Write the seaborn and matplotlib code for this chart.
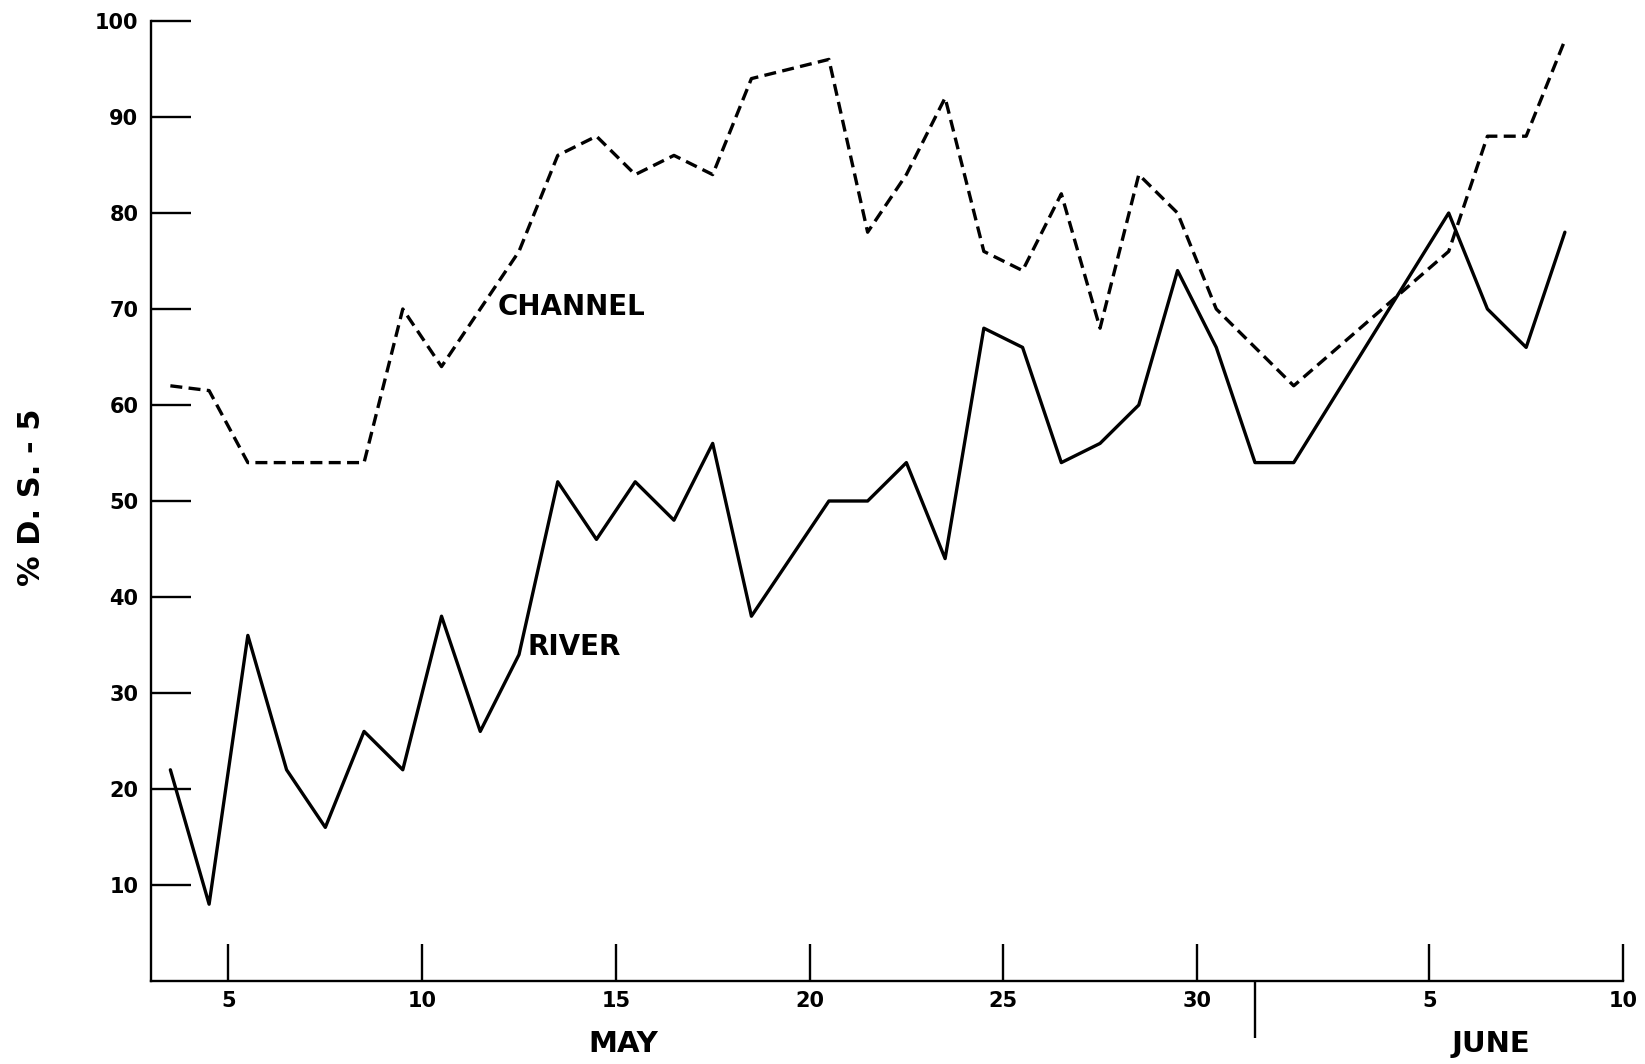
import matplotlib
matplotlib.use("Agg")
import matplotlib.pyplot as plt
import pandas as pd
import seaborn as sns

# Day index runs continuously: May d -> d, June d -> 31 + d.
# Each sample is plotted at the middle of its day.
river_days = [3.5, 4.5, 5.5, 6.5, 7.5, 8.5, 9.5, 10.5, 11.5, 12.5, 13.5, 14.5,
              15.5, 16.5, 17.5, 18.5, 20.5, 21.5, 22.5, 23.5, 24.5, 25.5, 26.5,
              27.5, 28.5, 29.5, 30.5, 31.5, 32.5, 36.5, 37.5, 38.5, 39.5]
river_pct = [22, 8, 36, 22, 16, 26, 22, 38, 26, 34, 52, 46,
             52, 48, 56, 38, 50, 50, 54, 44, 68, 66, 54,
             56, 60, 74, 66, 54, 54, 80, 70, 66, 78]

channel_days = [3.5, 4.5, 5.5, 6.5, 7.5, 8.5, 9.5, 10.5, 11.5, 12.5, 13.5,
                14.5, 15.5, 16.5, 17.5, 18.5, 20.5, 21.5, 22.5, 23.5, 24.5,
                25.5, 26.5, 27.5, 28.5, 29.5, 30.5, 32.5, 36.5, 37.5, 38.5, 39.5]
channel_pct = [62, 61.5, 54, 54, 54, 54, 70, 64, 70, 76, 86,
               88, 84, 86, 84, 94, 96, 78, 84, 92, 76,
               74, 82, 68, 84, 80, 70, 62, 76, 88, 88, 98]

x_tick_pos = [5, 10, 15, 20, 25, 30, 36, 41]
x_tick_labels = ["5", "10", "15", "20", "25", "30", "5", "10"]
y_ticks = [10, 20, 30, 40, 50, 60, 70, 80, 90, 100]
month_break = 31.5
month_labels = ["MAY", "JUNE"]
month_label_x = [15.2, 37.6]
series_labels = ["CHANNEL", "RIVER"]
series_label_xy = [(11.95, 70.2), (12.73, 34.8)]

sns.set_theme(style="white")
plt.rcParams["font.family"] = ["DejaVu Sans"]
plt.rcParams["font.weight"] = "bold"

W, H = 1645, 1064
fig = plt.figure(figsize=(W / 100, H / 100), dpi=100)
ax = fig.add_axes([151 / W, 1 - 981 / H, (1623 - 151) / W, (981 - 21) / H])

river = pd.DataFrame({"day": river_days, "pct": river_pct})
channel = pd.DataFrame({"day": channel_days, "pct": channel_pct})

sns.lineplot(data=river, x="day", y="pct", ax=ax, color="black",
             linewidth=2.4, estimator=None, sort=False)
sns.lineplot(data=channel, x="day", y="pct", ax=ax, color="black",
             linewidth=2.4, estimator=None, sort=False,
             linestyle=(0, (3.6, 1.9)))

ax.set_xlim(3, 41)
ax.set_ylim(0, 100)

for side in ("top", "right"):
    ax.spines[side].set_visible(False)
for side in ("left", "bottom"):
    ax.spines[side].set_linewidth(1.7)
    ax.spines[side].set_color("black")

ax.set_xticks(x_tick_pos)
ax.set_xticklabels(x_tick_labels)
ax.set_yticks(y_ticks)
ax.set_yticklabels([str(v) for v in y_ticks])
ax.set_xticks([month_break], minor=True)

ax.tick_params(axis="both", which="major", direction="in", width=1.7,
               color="black", labelsize=15, labelcolor="black",
               bottom=True, left=True, top=False, right=False)
ax.tick_params(axis="y", which="major", length=29, pad=9)
ax.tick_params(axis="x", which="major", length=27, pad=7)
ax.tick_params(axis="x", which="minor", direction="out", length=41,
               width=1.7, color="black", bottom=True)

ax.set_xlabel("")
ax.set_ylabel("% D. S. - 5", fontsize=22, fontweight="bold", color="black")
ax.yaxis.set_label_coords(-0.0713, 0.504)

for label, (tx, ty) in zip(series_labels, series_label_xy):
    ax.text(tx, ty, label, ha="left", va="center", fontsize=20,
            fontweight="bold", color="black")

for label, mx in zip(month_labels, month_label_x):
    ax.text(mx, -0.066, label, transform=ax.get_xaxis_transform(),
            ha="center", va="center", fontsize=21, fontweight="bold",
            color="black")

fig.savefig("out.png", dpi=100)
